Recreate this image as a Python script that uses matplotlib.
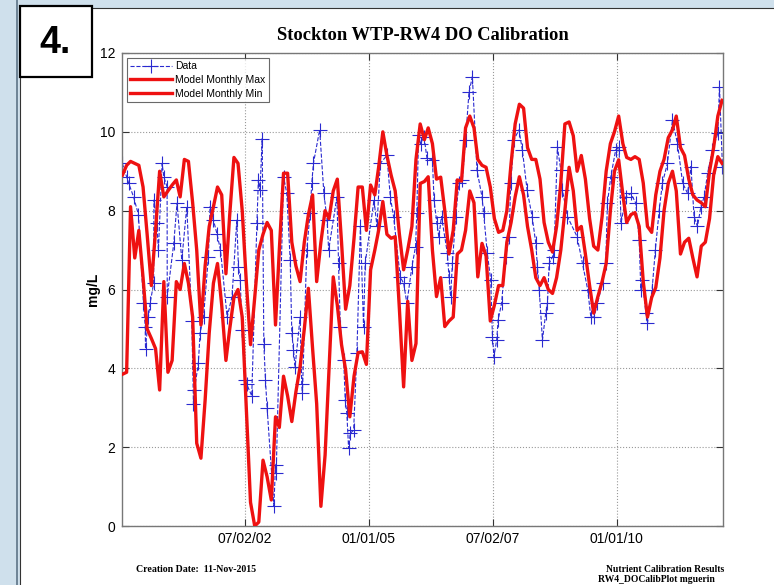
import matplotlib
matplotlib.use("Agg")
import matplotlib.pyplot as plt
import matplotlib.dates as mdates
from matplotlib.patches import Rectangle
import pandas as pd

# model monthly max / min, one value per month starting Jan 2000
model_max = [
    8.9, 9.15, 9.25, 9.2, 9.15, 8.6, 7.4, 6.1, 7.5, 9.0, 8.35, 8.5,
    8.65, 8.78, 8.35, 9.3, 9.25, 8.2, 7.0, 5.1, 6.6, 7.6, 8.1, 8.6,
    8.4, 6.4, 7.9, 9.35, 9.2, 8.0, 6.2, 4.6, 5.8, 7.0, 7.4, 7.7,
    7.5, 5.1, 7.0, 8.95, 8.95, 7.2, 6.6, 6.2, 7.2, 7.9, 8.4, 6.2,
    7.2, 8.0, 7.8, 8.5, 8.8, 7.2, 5.5, 6.1, 7.3, 8.6, 8.6, 7.5,
    8.65, 8.4, 9.1, 10.0, 9.4, 8.9, 8.5, 7.4, 6.5, 7.0, 7.6, 9.3,
    10.2, 9.8, 10.1, 9.7, 8.8, 8.85, 8.0, 6.9, 7.5, 8.78, 8.75, 10.1,
    10.4, 10.1, 9.3, 9.15, 9.1, 8.6, 7.8, 7.45, 7.5, 8.0, 9.2, 10.2,
    10.7, 10.6, 9.6, 9.3, 9.3, 8.8, 7.7, 7.2, 6.95, 7.6, 8.7, 10.2,
    10.25, 9.9, 9.0, 9.4, 8.8, 7.8, 7.1, 7.0, 7.85, 9.0, 9.7, 10.0,
    10.4, 9.7, 9.35, 9.3, 9.37, 9.3, 8.7, 7.6, 7.45, 8.4, 9.0, 9.3,
    9.85, 10.05, 10.4, 9.6, 9.4, 8.8, 8.4, 8.27, 8.2, 8.1, 9.0, 9.6,
    10.4, 10.8,
]
model_min = [
    3.85, 3.9, 8.1, 6.8, 7.5, 6.3, 5.0, 4.76, 4.5, 3.45, 6.2, 3.9,
    4.2, 6.2, 6.0, 6.66, 6.16, 5.3, 2.1, 1.72, 3.2, 4.9, 6.16, 6.66,
    5.6, 4.2, 5.0, 5.8, 6.0, 5.3, 3.0, 0.6, 0.0, 0.1, 1.67, 1.25,
    0.66, 2.77, 2.5, 3.8, 3.3, 2.65, 3.4, 4.04, 5.0, 6.03, 4.5, 3.1,
    0.5, 1.8, 4.0, 6.32, 5.6, 4.6, 3.96, 2.77, 3.8, 4.4, 4.42, 4.1,
    6.5, 7.0, 7.5, 8.23, 7.4, 7.3, 7.34, 5.5, 3.53, 5.7, 4.2, 4.63,
    8.69, 8.74, 8.86, 7.0, 5.82, 6.3, 5.06, 5.2, 5.3, 6.9, 7.0, 7.5,
    8.5, 8.2, 6.32, 7.17, 6.85, 5.2, 5.6, 6.1, 6.1, 7.2, 7.7, 8.35,
    8.86, 8.4, 7.6, 7.0, 6.3, 6.1, 6.3, 6.0, 5.9, 6.3, 7.0, 8.0,
    9.1, 8.5, 7.5, 7.6, 6.9, 6.1, 5.4, 5.82, 6.2, 6.66, 8.0, 9.0,
    9.29, 8.4, 7.7, 7.9, 7.95, 7.6, 6.2, 5.3, 5.8, 6.05, 6.8, 8.0,
    8.7, 9.0, 8.5, 6.9, 7.2, 7.3, 6.8, 6.32, 7.1, 7.2, 7.8, 8.9,
    9.37, 9.2,
]

# observed samples
obs_dates = [
    "2000-01-14", "2000-02-15", "2000-03-01", "2000-04-06", "2000-05-12",
    "2000-06-18", "2000-07-01", "2000-07-03", "2000-07-24", "2000-08-06",
    "2000-09-01", "2000-09-03", "2000-09-24", "2000-10-06", "2000-11-02",
    "2000-11-15", "2000-12-09", "2000-12-10", "2001-01-27", "2001-02-20",
    "2001-03-27", "2001-05-03", "2001-06-09", "2001-06-21", "2001-06-28",
    "2001-07-27", "2001-08-09", "2001-09-03", "2001-10-09", "2001-10-21",
    "2001-11-15", "2001-12-12", "2002-01-06", "2002-02-24", "2002-04-01",
    "2002-05-06", "2002-05-18", "2002-06-01", "2002-06-12", "2002-07-06",
    "2002-07-18", "2002-08-24", "2002-10-01", "2002-10-12", "2002-10-24",
    "2002-11-09", "2002-11-21", "2002-12-03", "2002-12-15", "2003-02-03",
    "2003-02-15", "2003-02-20", "2003-04-15", "2003-05-09", "2003-06-03",
    "2003-06-15", "2003-06-27", "2003-07-09", "2003-08-15", "2003-08-27",
    "2003-09-01", "2003-10-03", "2003-10-27", "2003-11-09", "2003-11-21",
    "2004-01-06", "2004-02-06", "2004-03-01", "2004-03-12", "2004-05-12",
    "2004-05-24", "2004-06-06", "2004-07-01", "2004-07-12", "2004-07-24",
    "2004-08-06", "2004-08-18", "2004-09-12", "2004-10-06", "2004-11-01",
    "2004-11-24", "2004-12-06", "2005-02-09", "2005-03-03", "2005-03-27",
    "2005-05-15", "2005-06-09", "2005-07-03", "2005-08-21", "2005-09-15",
    "2005-10-09", "2005-11-15", "2005-12-12", "2005-12-21", "2006-01-03",
    "2006-01-18", "2006-02-12", "2006-03-06", "2006-04-15", "2006-04-27",
    "2006-05-18", "2006-06-01", "2006-06-21", "2006-08-03", "2006-08-15",
    "2006-08-27", "2006-09-09", "2006-10-03", "2006-10-27", "2006-11-21",
    "2006-12-15", "2007-01-09", "2007-02-03", "2007-03-09", "2007-04-15",
    "2007-04-27", "2007-05-24", "2007-06-18", "2007-07-01", "2007-07-12",
    "2007-08-01", "2007-08-12", "2007-09-06", "2007-10-06", "2007-11-01",
    "2007-11-12", "2007-12-06", "2008-01-12", "2008-02-06", "2008-03-12",
    "2008-04-18", "2008-05-15", "2008-05-27", "2008-06-09", "2008-07-03",
    "2008-07-27", "2008-08-09", "2008-08-21", "2008-09-15", "2008-09-27",
    "2008-10-21", "2008-11-15", "2008-11-27", "2009-01-03", "2009-03-15",
    "2009-04-24", "2009-06-01", "2009-06-24", "2009-07-18", "2009-08-12",
    "2009-09-18", "2009-10-12", "2009-10-24", "2009-11-18", "2009-12-24",
    "2010-01-18", "2010-02-01", "2010-03-09", "2010-04-15", "2010-05-21",
    "2010-06-15", "2010-06-27", "2010-07-09", "2010-08-03", "2010-08-15",
    "2010-09-18", "2010-10-12", "2010-11-09", "2010-12-03", "2011-01-09",
    "2011-02-15", "2011-03-24", "2011-05-01", "2011-06-06", "2011-07-01",
    "2011-07-24", "2011-08-18", "2011-09-12", "2011-10-06", "2011-11-01",
    "2011-12-06", "2012-01-15", "2012-01-27", "2012-02-18",
]
obs_values = [
    9.2, 8.86, 8.7, 8.35, 7.9,
    5.65, 5.06, 4.5, 5.3, 5.65,
    6.16, 8.27, 7.68, 7.0, 9.2,
    8.86, 8.6, 5.82, 7.17, 8.19,
    6.75, 8.1, 5.2, 3.1, 3.45,
    4.13, 4.9, 5.3, 6.83, 8.1,
    7.76, 7.4, 7.0, 5.3, 5.82,
    7.76, 6.58, 6.24, 4.97, 3.7,
    3.6, 3.3, 7.68, 8.78, 8.52,
    9.83, 4.63, 3.7, 3.0, 0.5,
    1.55, 1.34, 8.86, 8.44, 6.75,
    4.9, 4.47, 4.04, 5.3, 3.6,
    3.37, 7.0, 7.93, 8.7, 9.2,
    10.05, 8.44, 7.76, 7.0, 8.35,
    6.66, 5.06, 4.2, 3.2, 2.86,
    1.97, 2.35, 2.43, 4.38, 7.6,
    5.06, 6.66, 8.27, 7.6, 9.2,
    9.4, 8.35, 7.85, 6.32, 6.16,
    5.65, 6.58, 7.09, 7.93, 9.92,
    9.7, 9.88, 9.33, 9.29, 8.27,
    7.68, 7.34, 7.85, 6.92, 6.32,
    5.82, 6.66, 7.85, 8.7, 8.78,
    9.8, 11.0, 11.4, 9.03, 8.35,
    7.93, 6.92, 6.24, 4.8, 4.3,
    4.72, 5.23, 5.65, 6.83, 7.34,
    8.7, 9.8, 10.05, 9.54, 8.52,
    7.85, 7.17, 6.58, 6.0, 4.72,
    5.4, 5.65, 6.66, 6.83, 7.0,
    9.62, 9.03, 8.52, 7.85, 7.34,
    6.66, 6.0, 5.3, 5.3, 5.65,
    6.16, 6.66, 8.19, 8.86, 9.54,
    9.62, 7.68, 8.35, 8.44, 8.19,
    7.26, 6.0, 6.24, 5.4, 5.14,
    6.0, 7.0, 8.0, 8.7, 9.2,
    10.3, 9.7, 8.7, 8.44, 9.12,
    7.85, 7.6, 8.1, 8.35, 8.95,
    9.54, 9.96, 11.15, 9.1,
]

tick_dates = ["2002-07-02", "2005-01-01", "2007-07-02", "2010-01-01"]

W, H = 774, 585
fig = plt.figure(figsize=(W / 100, H / 100), dpi=100)
fig.patch.set_facecolor("#cfe0ec")


def px_rect(x0, y0, x1, y1, **kw):
    # rectangle given in pixel coords measured from the top-left corner
    r = Rectangle((x0 / W, 1 - y1 / H), (x1 - x0) / W, (y1 - y0) / H,
                  transform=fig.transFigure, **kw)
    fig.add_artist(r)


px_rect(20, 8, 780, 590, facecolor="white", edgecolor="#333333", lw=0.8, zorder=-10)
px_rect(16, -2, 18, 590, facecolor="#6f8597", edgecolor="none", zorder=-10)
px_rect(20, 6, 92, 77, facecolor="white", edgecolor="black", lw=1.6, zorder=5)
fig.text(55 / W, 1 - 43 / H, "4.", fontsize=27, fontweight="bold",
         family="Liberation Sans", ha="center", va="center", zorder=6)

ax = fig.add_axes([122 / W, 1 - 526 / H, (723 - 122) / W, (526 - 53) / H])

month_dates = pd.date_range("2000-01-01", periods=len(model_max), freq="MS") + pd.Timedelta(days=14)
obs_dt = pd.to_datetime(obs_dates)

ax.plot(obs_dt, obs_values, linestyle="--", color="#2a2ad0", lw=0.8,
        marker="+", markersize=10, markeredgewidth=0.8, label="Data", zorder=2)
ax.plot(month_dates, model_max, color="#ee1111", lw=2.4, label="Model Monthly Max", zorder=3)
ax.plot(month_dates, model_min, color="#ee1111", lw=2.4, label="Model Monthly Min", zorder=3)

ax.set_xlim(pd.Timestamp("2000-01-12"), pd.Timestamp("2012-02-22"))
ax.set_ylim(0, 12)
ax.set_yticks(range(0, 13, 2))
ax.set_xticks(pd.to_datetime(tick_dates))
ax.xaxis.set_major_formatter(mdates.DateFormatter("%m/%d/%y"))

ax.grid(True, linestyle=":", color="#999999", lw=0.8)
ax.tick_params(direction="in", top=True, right=True, length=5, width=0.8,
               color="#333333", labelsize=10)
ax.tick_params(axis="x", pad=4)
ax.tick_params(axis="y", pad=5)
for lab in ax.get_xticklabels() + ax.get_yticklabels():
    lab.set_family("Liberation Sans")
for s in ax.spines.values():
    s.set_color("#777777")
    s.set_linewidth(1.0)

ax.set_title("Stockton WTP-RW4 DO Calibration", family="Liberation Serif",
             fontweight="bold", fontsize=13.3, pad=9)
ax.set_ylabel("mg/L", family="Liberation Sans", fontweight="bold", fontsize=10, labelpad=0)

leg = ax.legend(loc="upper left", prop={"family": "Liberation Sans", "size": 7.5},
                handlelength=4.0, frameon=True, fancybox=False, borderpad=0.35,
                labelspacing=0.35, borderaxespad=0.45, handletextpad=0.3)
leg.get_frame().set_edgecolor("#444444")
leg.get_frame().set_linewidth(0.8)

fig.text(136 / W, 1 - 570 / H, "Creation Date:  11-Nov-2015", family="Liberation Serif",
         fontweight="bold", fontsize=7.1, va="center")
fig.text(606 / W, 1 - 569 / H, "Nutrient Calibration Results", family="Liberation Serif",
         fontweight="bold", fontsize=6.9, va="center")
fig.text(598 / W, 1 - 580 / H, "RW4_DOCalibPlot mguerin", family="Liberation Serif",
         fontweight="bold", fontsize=6.9, va="center")

fig.savefig("out.png", dpi=100, facecolor=fig.get_facecolor())
